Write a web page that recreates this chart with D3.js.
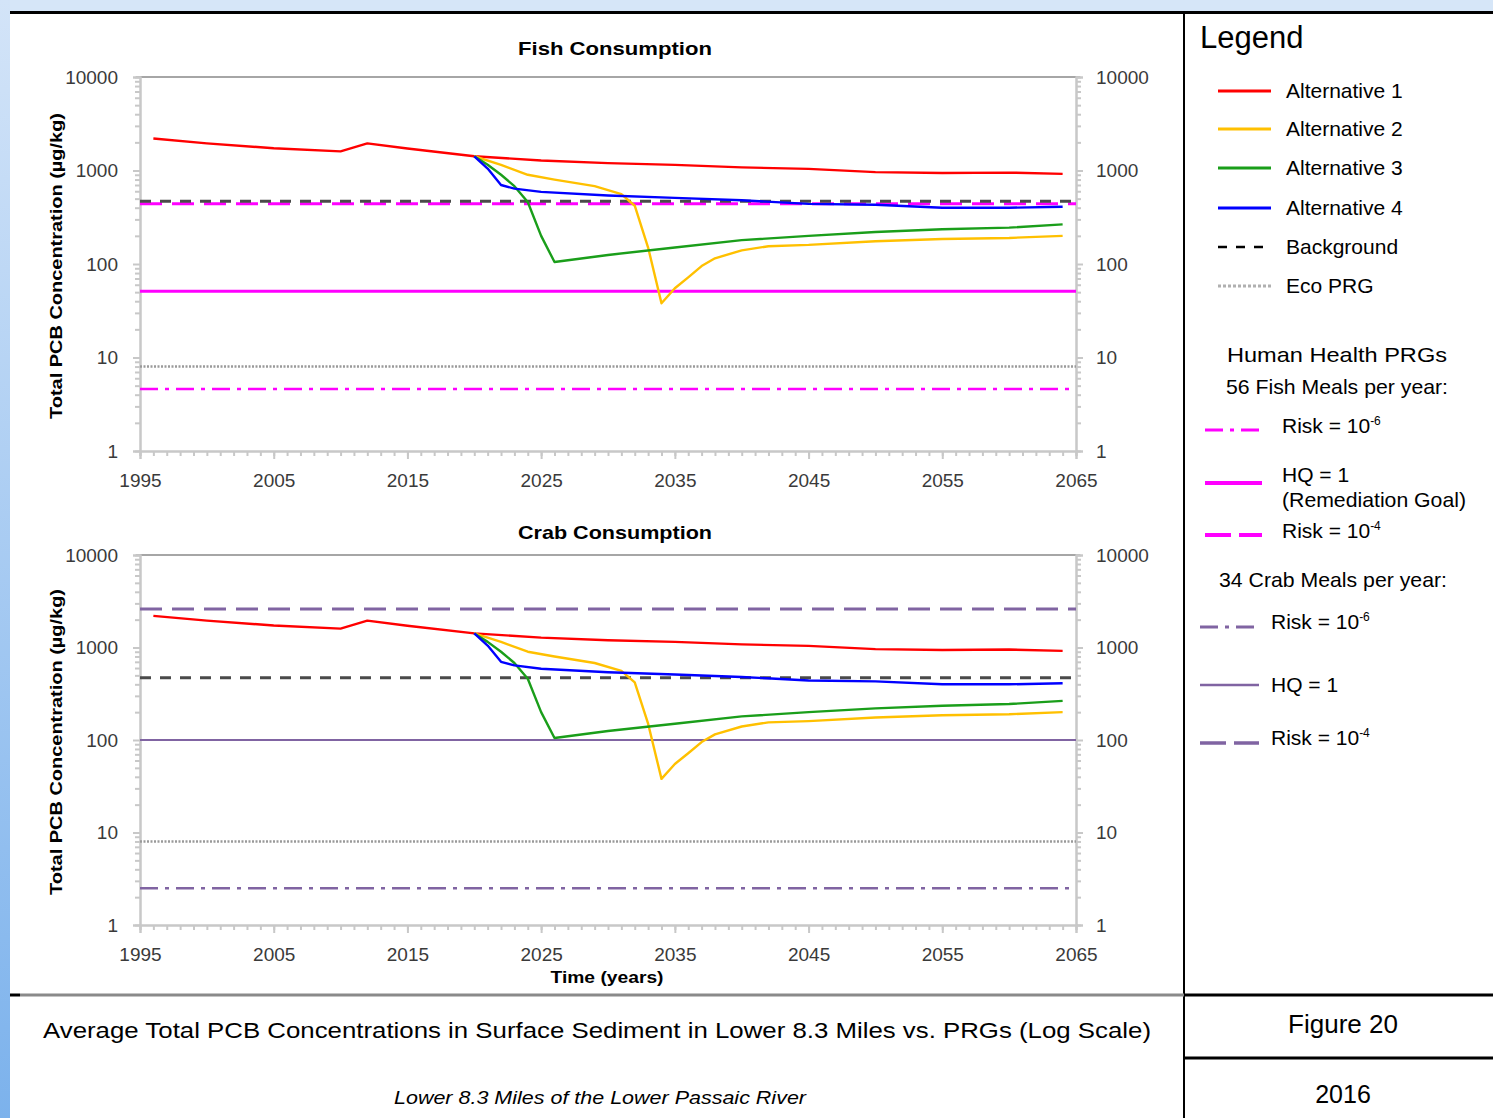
<!DOCTYPE html>
<html>
<head>
<meta charset="utf-8">
<script src="https://cdn.jsdelivr.net/npm/d3@7"></script>
<style>
  html, body { margin: 0; padding: 0; background: #d6e6f8; }
  svg { display: block; font-family: "Liberation Sans", Arial, sans-serif; }
</style>
</head>
<body>
<svg id="fig" width="1493" height="1118"></svg>
<script>
// series values: [year, total PCB ug/kg]
const alt1 = [[1996,2200],[2000,1950],[2005,1730],[2010,1600],[2012,1950],[2015,1720],[2020,1420],[2025,1280],[2030,1200],[2035,1150],[2040,1080],[2045,1040],[2050,960],[2055,940],[2060,950],[2064,920]];
const alt2 = [[2020,1420],[2022,1150],[2024,900],[2026,800],[2029,680],[2031,560],[2032,420],[2033,150],[2034,38],[2035,55],[2036,72],[2037,95],[2038,115],[2040,140],[2042,155],[2045,160],[2050,175],[2055,185],[2060,190],[2064,200]];
const alt3 = [[2020,1420],[2021,1150],[2022,900],[2023,680],[2024,460],[2025,200],[2026,105],[2030,125],[2035,150],[2040,180],[2045,200],[2050,220],[2055,235],[2060,245],[2064,265]];
const alt4 = [[2020,1420],[2021,1050],[2022,700],[2023,640],[2025,590],[2030,540],[2035,510],[2040,480],[2045,440],[2050,430],[2055,400],[2060,400],[2064,410]];

const seriesNames = ["Alternative 1", "Alternative 2", "Alternative 3", "Alternative 4"];
const seriesColors = ["#ff0000", "#ffc000", "#1a9e1a", "#0000ff"];

// PRG reference levels
const background = 470;
const ecoPRG = 8;
const fishPRG = { risk6: 4.6, hq: 51, risk4: 440 };
const crabPRG = { risk6: 2.5, hq: 100, risk4: 2600 };

const yearTicks = [1995, 2005, 2015, 2025, 2035, 2045, 2055, 2065];
const concTicks = [1, 10, 100, 1000, 10000];
const chartTitles = ["Fish Consumption", "Crab Consumption"];

const svg = d3.select("#fig");

// ---- page frame ----
const defs = svg.append("defs");
const grad = defs.append("linearGradient").attr("id", "edge").attr("x1", 0).attr("y1", 0).attr("x2", 0).attr("y2", 1);
grad.append("stop").attr("offset", "0%").attr("stop-color", "#d3e4f8");
grad.append("stop").attr("offset", "100%").attr("stop-color", "#7cb2ec");

svg.append("rect").attr("x", 0).attr("y", 0).attr("width", 1493).attr("height", 12).attr("fill", "#d6e6f8");
svg.append("rect").attr("x", 0).attr("y", 0).attr("width", 10).attr("height", 1118).attr("fill", "url(#edge)");
svg.append("rect").attr("x", 10).attr("y", 12).attr("width", 1483).attr("height", 1106).attr("fill", "#fff");
svg.append("line").attr("x1", 10).attr("x2", 1493).attr("y1", 12.5).attr("y2", 12.5).attr("stroke", "#000").attr("stroke-width", 3);
svg.append("line").attr("x1", 1184).attr("x2", 1184).attr("y1", 12).attr("y2", 1118).attr("stroke", "#000").attr("stroke-width", 2);
svg.append("line").attr("x1", 20).attr("x2", 1184).attr("y1", 995).attr("y2", 995).attr("stroke", "#8a8a8a").attr("stroke-width", 3);
svg.append("line").attr("x1", 10).attr("x2", 20).attr("y1", 995).attr("y2", 995).attr("stroke", "#000").attr("stroke-width", 3);
svg.append("line").attr("x1", 1184).attr("x2", 1493).attr("y1", 995).attr("y2", 995).attr("stroke", "#000").attr("stroke-width", 3);
svg.append("line").attr("x1", 1184).attr("x2", 1493).attr("y1", 1058).attr("y2", 1058).attr("stroke", "#000").attr("stroke-width", 3);

// ---- charts ----
const x = d3.scaleLinear().domain([1995, 2065]).range([140, 1076]);

const minorConc = [];
for (let p = 0; p < 4; p++) {
    for (let m = 2; m < 10; m++) minorConc.push(m * Math.pow(10, p));
}

function hline(g, y, value, color, width, dash) {
    g.append("line")
        .attr("x1", x(1995)).attr("x2", x(2065))
        .attr("y1", y(value)).attr("y2", y(value))
        .attr("stroke", color)
        .attr("stroke-width", width)
        .attr("stroke-dasharray", dash || null);
}

function drawChart(top, bottom, title, titleY, prg, prgColor, showXTitle) {

    const y = d3.scaleLog().domain([1, 10000]).range([bottom, top]);
    const g = svg.append("g");

    // frame: top border
    g.append("line").attr("x1", 136).attr("x2", 1080).attr("y1", top).attr("y2", top)
        .attr("stroke", "#a6a6a6").attr("stroke-width", 2);

    const styleAxis = (a) => {
        a.selectAll("path").attr("stroke", "#c8c8c8").attr("stroke-width", 2);
        a.selectAll("line").attr("stroke", "#c8c8c8").attr("stroke-width", 2);
        a.selectAll("text").attr("fill", "#3a3a3a").attr("font-size", 19);
    };

    styleAxis(g.append("g").attr("transform", "translate(140,0)")
        .call(d3.axisLeft(y).tickValues(minorConc).tickSize(5).tickFormat("")));
    styleAxis(g.append("g").attr("transform", "translate(140,0)")
        .call(d3.axisLeft(y).tickValues(concTicks).tickSize(7).tickPadding(15).tickFormat(d3.format("d"))));
    styleAxis(g.append("g").attr("transform", "translate(1076,0)")
        .call(d3.axisRight(y).tickValues(minorConc).tickSize(5).tickFormat("")));
    styleAxis(g.append("g").attr("transform", "translate(1076,0)")
        .call(d3.axisRight(y).tickValues(concTicks).tickSize(7).tickPadding(13).tickFormat(d3.format("d"))));
    styleAxis(g.append("g").attr("transform", `translate(0,${bottom})`)
        .call(d3.axisBottom(x).tickValues(d3.range(1995, 2066, 1)).tickSize(5).tickFormat("")));
    styleAxis(g.append("g").attr("transform", `translate(0,${bottom})`)
        .call(d3.axisBottom(x).tickValues(yearTicks).tickSize(8).tickPadding(15).tickFormat(d3.format("d"))));

    // reference levels
    hline(g, y, ecoPRG, "#9a9a9a", 2.5, "2,1.5");
    hline(g, y, prg.risk6, prgColor, 2.5, "18,7,4,7");
    hline(g, y, prg.hq, prgColor, prgColor === "#ff00ff" ? 3 : 2);
    hline(g, y, prg.risk4, prgColor, 3, "22,10");
    hline(g, y, background, "#4a4a4a", 3, "11,9");

    // model results
    const line = d3.line().x(d => x(d[0])).y(d => y(d[1]));
    [alt1, alt2, alt3, alt4].forEach((s, i) => {
        g.append("path")
            .attr("d", line(s))
            .attr("fill", "none")
            .attr("stroke", seriesColors[i])
            .attr("stroke-width", 2.4)
            .attr("stroke-linejoin", "round");
    });

    g.append("text").attr("x", 615).attr("y", titleY).attr("text-anchor", "middle")
        .attr("font-size", 19).attr("font-weight", "bold")
        .attr("textLength", 194).attr("lengthAdjust", "spacingAndGlyphs")
        .text(title);

    const midY = (top + bottom) / 2 + 2;
    g.append("text").attr("transform", `translate(62,${midY}) rotate(-90)`)
        .attr("text-anchor", "middle").attr("font-size", 16).attr("font-weight", "bold")
        .attr("textLength", 306).attr("lengthAdjust", "spacingAndGlyphs")
        .text("Total PCB Concentration (µg/kg)");

    if (showXTitle) {
        g.append("text").attr("x", 607).attr("y", bottom + 58).attr("text-anchor", "middle")
            .attr("font-size", 17).attr("font-weight", "bold")
            .attr("textLength", 113).attr("lengthAdjust", "spacingAndGlyphs")
            .text("Time (years)");
    }
}

drawChart(77, 451, chartTitles[0], 55, fishPRG, "#ff00ff", false);
drawChart(555, 925, chartTitles[1], 539, crabPRG, "#8064a2", true);

// ---- legend ----
const lg = svg.append("g").attr("font-size", 21).attr("fill", "#000");
lg.append("text").attr("x", 1200).attr("y", 48).attr("font-size", 31).text("Legend");

const legendRows = [
    { label: seriesNames[0], y: 91, color: seriesColors[0], dash: null, w: 3 },
    { label: seriesNames[1], y: 129, color: seriesColors[1], dash: null, w: 3 },
    { label: seriesNames[2], y: 168, color: seriesColors[2], dash: null, w: 3 },
    { label: seriesNames[3], y: 208, color: seriesColors[3], dash: null, w: 3 },
    { label: "Background", y: 247, color: "#000", dash: "9,9", w: 2.5 },
    { label: "Eco PRG", y: 286, color: "#b0b0b0", dash: "3,2", w: 3 }
];
legendRows.forEach(r => {
    lg.append("line").attr("x1", 1218).attr("x2", 1271).attr("y1", r.y).attr("y2", r.y)
        .attr("stroke", r.color).attr("stroke-width", r.w).attr("stroke-dasharray", r.dash);
    lg.append("text").attr("x", 1286).attr("y", r.y + 7).text(r.label);
});

lg.append("text").attr("x", 1337).attr("y", 362).attr("text-anchor", "middle")
    .attr("textLength", 220).attr("lengthAdjust", "spacingAndGlyphs").text("Human Health PRGs");
lg.append("text").attr("x", 1337).attr("y", 394).attr("text-anchor", "middle")
    .attr("textLength", 222).attr("lengthAdjust", "spacingAndGlyphs").text("56 Fish Meals per year:");
lg.append("text").attr("x", 1333).attr("y", 587).attr("text-anchor", "middle")
    .attr("textLength", 228).attr("lengthAdjust", "spacingAndGlyphs").text("34 Crab Meals per year:");

function riskLabel(xp, yp, exp) {
    const t = lg.append("text").attr("x", xp).attr("y", yp);
    t.append("tspan").text("Risk  =  10");
    t.append("tspan").attr("font-size", 12).attr("dy", -8).text(exp);
}

const prgRows = [
    { y: 430, x1: 1205, x2: 1262, tx: 1282, color: "#ff00ff", dash: "18,7,4,7", w: 3, kind: "-6" },
    { y: 483, x1: 1205, x2: 1262, tx: 1282, color: "#ff00ff", dash: null, w: 4, kind: "hq" },
    { y: 535, x1: 1205, x2: 1262, tx: 1282, color: "#ff00ff", dash: "26,8", w: 4, kind: "-4" },
    { y: 627, x1: 1200, x2: 1259, tx: 1271, color: "#8064a2", dash: "18,7,4,7", w: 3, kind: "-6" },
    { y: 685, x1: 1200, x2: 1259, tx: 1271, color: "#8064a2", dash: null, w: 2.5, kind: "hq" },
    { y: 743, x1: 1200, x2: 1259, tx: 1271, color: "#8064a2", dash: "26,8", w: 3.5, kind: "-4" }
];
prgRows.forEach(r => {
    lg.append("line").attr("x1", r.x1).attr("x2", r.x2).attr("y1", r.y).attr("y2", r.y)
        .attr("stroke", r.color).attr("stroke-width", r.w).attr("stroke-dasharray", r.dash);
    if (r.kind === "hq") {
        const ty = r.color === "#ff00ff" ? r.y - 1 : r.y + 7;
        lg.append("text").attr("x", r.tx).attr("y", ty).text("HQ = 1");
        if (r.color === "#ff00ff") {
            lg.append("text").attr("x", r.tx).attr("y", ty + 25)
                .attr("textLength", 184).attr("lengthAdjust", "spacingAndGlyphs").text("(Remediation Goal)");
        }
    } else {
        riskLabel(r.tx, r.y + (r.color === "#ff00ff" ? 3 : 2), r.kind);
    }
});

// ---- title block ----
svg.append("text").attr("x", 597).attr("y", 1038).attr("text-anchor", "middle")
    .attr("font-size", 22).attr("textLength", 1108).attr("lengthAdjust", "spacingAndGlyphs")
    .text("Average Total PCB Concentrations in Surface Sediment in Lower 8.3 Miles vs. PRGs (Log Scale)");
svg.append("text").attr("x", 600).attr("y", 1104).attr("text-anchor", "middle")
    .attr("font-size", 19).attr("font-style", "italic")
    .attr("textLength", 412).attr("lengthAdjust", "spacingAndGlyphs")
    .text("Lower 8.3 Miles of the Lower Passaic River");
svg.append("text").attr("x", 1343).attr("y", 1033).attr("text-anchor", "middle")
    .attr("font-size", 26).text("Figure 20");
svg.append("text").attr("x", 1343).attr("y", 1103).attr("text-anchor", "middle")
    .attr("font-size", 25).text("2016");
</script>
</body>
</html>
